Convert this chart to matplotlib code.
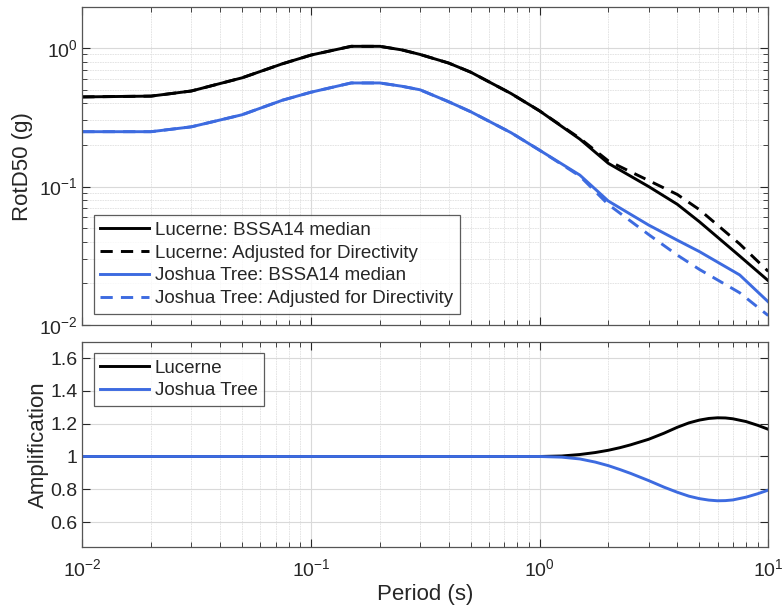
import numpy as np
import matplotlib
matplotlib.use("Agg")
import matplotlib.pyplot as plt
from matplotlib.ticker import LogLocator, FixedLocator, FormatStrFormatter, NullFormatter

plt.rcParams['font.family'] = ['Liberation Sans', 'DejaVu Sans']

periods = [0.01, 0.02, 0.03, 0.05, 0.075, 0.1, 0.15, 0.2, 0.25, 0.3, 0.4, 0.5,
           0.75, 1.0, 1.5, 2.0, 3.0, 4.0, 5.0, 7.5, 10.0]
lucerne_median = [0.444, 0.45, 0.49, 0.61, 0.77, 0.89, 1.03, 1.03, 0.97, 0.90, 0.78, 0.67,
                  0.47, 0.352, 0.22, 0.147, 0.100, 0.0745, 0.0557, 0.0315, 0.0209]
lucerne_adjusted = [0.444, 0.45, 0.49, 0.61, 0.77, 0.89, 1.03, 1.03, 0.97, 0.90, 0.78, 0.67,
                    0.47, 0.352, 0.223, 0.153, 0.1105, 0.0877, 0.0681, 0.0385, 0.0244]
joshua_median = [0.249, 0.249, 0.27, 0.33, 0.42, 0.48, 0.56, 0.56, 0.53, 0.50, 0.41, 0.347,
                 0.245, 0.183, 0.121, 0.0785, 0.0527, 0.041, 0.0339, 0.023, 0.0147]
joshua_adjusted = [0.249, 0.249, 0.27, 0.33, 0.42, 0.48, 0.56, 0.56, 0.53, 0.50, 0.41, 0.347,
                   0.245, 0.183, 0.119, 0.0741, 0.045, 0.032, 0.0252, 0.0171, 0.0117]

amp_periods = [0.01, 0.1, 0.5, 0.8, 1.0, 1.25, 1.5, 1.75, 2.0, 2.25, 2.5, 3.0, 3.5, 4.0,
               4.5, 5.0, 5.5, 6.0, 6.5, 7.0, 8.0, 9.0, 10.0]
lucerne_amp = [1.0, 1.0, 1.0, 1.0, 1.0, 1.003, 1.012, 1.024, 1.038, 1.054, 1.071, 1.105,
               1.142, 1.178, 1.205, 1.222, 1.232, 1.236, 1.235, 1.23, 1.213, 1.19, 1.166]
joshua_amp = [1.0, 1.0, 1.0, 1.0, 1.0, 0.996, 0.985, 0.966, 0.944, 0.92, 0.897, 0.853,
              0.813, 0.782, 0.758, 0.743, 0.734, 0.73, 0.731, 0.735, 0.752, 0.773, 0.795]

black = 'black'
blue = '#3D6BE0'
axcol = '#262626'
lw = 2.1
dash = (0, (4.2, 2.8))

fig = plt.figure(figsize=(7.82, 6.05), dpi=100)
ax1 = fig.add_axes([0.1052, 0.4628, 0.8772, 0.5251])
ax2 = fig.add_axes([0.1052, 0.0964, 0.8772, 0.3388])

ax1.plot(periods, lucerne_median, color=black, lw=lw, label='Lucerne: BSSA14 median')
ax1.plot(periods, lucerne_adjusted, color=black, lw=lw, ls=dash, label='Lucerne: Adjusted for Directivity')
ax1.plot(periods, joshua_median, color=blue, lw=lw, label='Joshua Tree: BSSA14 median')
ax1.plot(periods, joshua_adjusted, color=blue, lw=lw, ls=dash, label='Joshua Tree: Adjusted for Directivity')

ax2.plot(amp_periods, lucerne_amp, color=black, lw=lw, label='Lucerne')
ax2.plot(amp_periods, joshua_amp, color=blue, lw=lw, label='Joshua Tree')

for ax in (ax1, ax2):
    ax.set_xscale('log')
    ax.set_xlim(0.01, 10)
    ax.xaxis.set_major_locator(LogLocator(base=10, numticks=10))
    ax.xaxis.set_minor_locator(LogLocator(base=10, subs=np.arange(2, 10), numticks=20))
    ax.grid(True, which='major', color='#d9d9d9', lw=0.8)
    ax.grid(True, which='minor', color='#e0e0e0', lw=0.6, ls=(0, (2, 1)))
    ax.set_axisbelow(True)
    ax.tick_params(which='both', direction='in', top=True, right=True, colors=axcol, labelsize=14)
    ax.tick_params(which='major', length=6, width=0.8)
    ax.tick_params(which='minor', length=3.5, width=0.6)
    for s in ax.spines.values():
        s.set_color('#555555')
        s.set_linewidth(0.9)
    for lab in ax.get_xticklabels() + ax.get_yticklabels():
        lab.set_color(axcol)

ax1.set_yscale('log')
ax1.set_ylim(0.01, 1.97)
ax1.yaxis.set_major_locator(LogLocator(base=10, numticks=10))
ax1.yaxis.set_minor_locator(LogLocator(base=10, subs=np.arange(2, 10), numticks=20))
ax1.xaxis.set_major_formatter(NullFormatter())
ax1.xaxis.set_minor_formatter(NullFormatter())
ax1.yaxis.set_minor_formatter(NullFormatter())
ax1.set_ylabel('RotD50 (g)', fontsize=16, color=axcol, labelpad=4)

ax2.set_ylim(0.45, 1.7)
ax2.yaxis.set_major_locator(FixedLocator([0.6, 0.8, 1.0, 1.2, 1.4, 1.6]))
ax2.yaxis.set_major_formatter(FormatStrFormatter('%g'))
ax2.xaxis.set_minor_formatter(NullFormatter())
ax2.set_ylabel('Amplification', fontsize=16, color=axcol, labelpad=1)
ax2.set_xlabel('Period (s)', fontsize=16, color=axcol, labelpad=3)
ax2.tick_params(axis='x', which='major', pad=8)

leg_kw = dict(frameon=True, fancybox=False, edgecolor='#333333', fontsize=13.5,
              handlelength=2.6, handletextpad=0.32, borderpad=0.35, labelspacing=0.3,
              borderaxespad=0.6, labelcolor=axcol)
l1 = ax1.legend(loc='lower left', **leg_kw)
l1.get_frame().set_linewidth(0.9)
l2 = ax2.legend(loc='upper left', **leg_kw)
l2.get_frame().set_linewidth(0.9)

fig.savefig('out.png', dpi=100)
